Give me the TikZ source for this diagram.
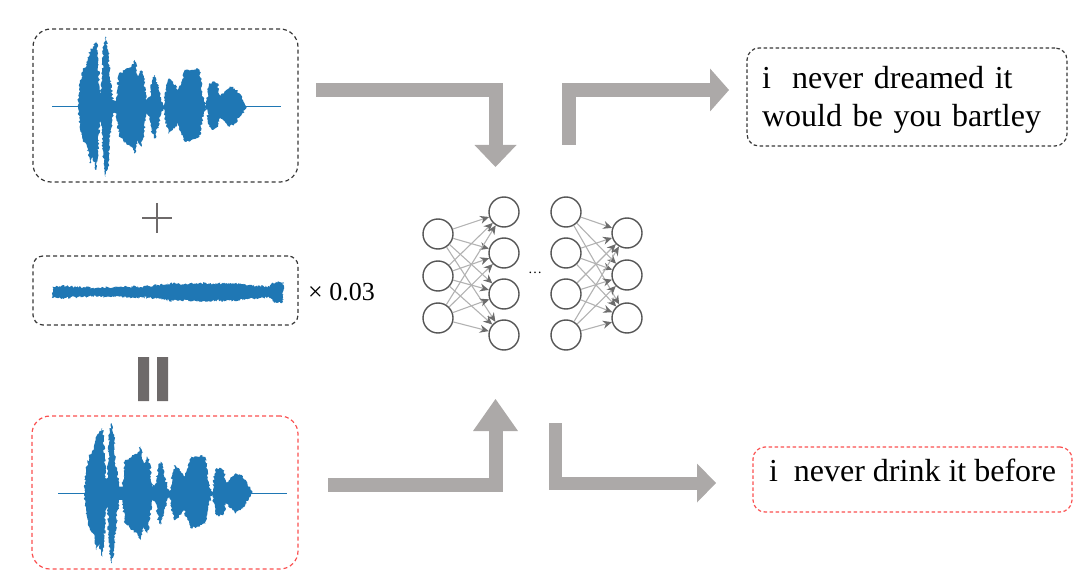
\documentclass[tikz,border=0pt]{standalone}
\usepackage{fontspec}
\setmainfont{Liberation Serif}
\usepackage{tikz}
\usetikzlibrary{arrows.meta,decorations.pathmorphing}
\definecolor{wave}{RGB}{31,119,180}
\definecolor{flow}{RGB}{172,169,168}
\definecolor{dashred}{RGB}{250,80,80}
\definecolor{dashblk}{RGB}{55,55,55}
\definecolor{neuron}{RGB}{85,85,85}
\definecolor{symgray}{RGB}{110,106,106}
\tikzset{
    wavebox/.style={rectangle,draw=dashblk,line width=1.2pt,dash pattern=on 4pt off 3pt,rounded corners=18pt,inner sep=0pt},
    advbox/.style={wavebox,draw=dashred},
    txtbox/.style={rectangle,draw=dashblk,line width=1.2pt,dash pattern=on 3.5pt off 2.5pt,rounded corners=12pt,font=\fontsize{32}{38.4}\selectfont},
    neuronc/.style={circle,draw=neuron,line width=1.4pt,minimum size=30pt,inner sep=0pt},
    link/.style={draw=gray!60,line width=1.1pt,-{Stealth[length=9pt,width=8pt,color=gray!85!black]}},
    bigarr/.style={draw=flow,line width=14pt,line join=miter},
    wavefill/.style={fill=wave,decorate,decoration={random steps,segment length=1.5pt,amplitude=1.2pt}},
}
\newcommand{\speechwave}[2]{%
  \begin{scope}[shift={(#1,#2)}]
    \draw[wave,line width=1.2pt] (-26,0) -- (203,0);
    \fill[wavefill] (0,0) -- (1.7,-20) -- (5,-36.7) -- (9,-43.3) -- (12.3,-56.7) -- (15,-60) -- (18.3,-65) -- (20,-53.3) -- (21.7,-16.7) -- (23.3,-13.3) -- (25.7,-63.3) -- (27.7,-70) -- (30,-56.7) -- (31.7,-30) -- (35,-6.7) -- (38.3,-6.7) -- (41,-33.3) -- (45,-35) -- (48.3,-38.3) -- (53.3,-40) -- (56.7,-46.7) -- (60,-30) -- (63.3,-36.7) -- (65.7,-30) -- (68.3,-6.7) -- (71.7,-10) -- (74.3,-26.7) -- (76.7,-31.7) -- (80,-20) -- (83.3,-6.7) -- (85.7,-0.7) -- (88.3,-20) -- (91,-28.3) -- (95,-25) -- (100,-16.7) -- (103.3,-23.3) -- (106.7,-36.7) -- (113.3,-36.7) -- (118.3,-38.3) -- (121.7,-35) -- (125,-10) -- (128.3,-0.7) -- (131,-23.3) -- (135,-25) -- (140,-23.3) -- (141.7,-10) -- (145,-13.3) -- (148.3,-16.7) -- (151.7,-20) -- (156.7,-18.3) -- (161.7,-13.3) -- (166.7,-3.3) -- (168.3,0)
      -- (166.7,3.3) -- (161.7,10) -- (156.7,16.7) -- (151.7,20) -- (148.3,16.7) -- (145,13.3) -- (141.7,10) -- (140,20) -- (135,23.3) -- (131,20) -- (128.3,0.7) -- (125,10) -- (121.7,30) -- (118.3,31.7) -- (113.3,33.3) -- (106.7,35) -- (103.3,26.7) -- (100,16.7) -- (95,23.3) -- (91,26.7) -- (88.3,20) -- (85.7,1.7) -- (83.3,6.7) -- (80,20) -- (76.7,31.7) -- (74.3,26.7) -- (71.7,10) -- (68.3,6.7) -- (65.7,26.7) -- (63.3,40) -- (60,33.3) -- (56.7,46.7) -- (53.3,40) -- (48.3,36.7) -- (45,33.3) -- (41,30) -- (38.3,6.7) -- (35,6.7) -- (31.7,33.3) -- (30,60) -- (27.7,70) -- (25.7,56.7) -- (23.3,13.3) -- (21.7,16.7) -- (20,46.7) -- (18.3,63.3) -- (15,50) -- (12.3,56.7) -- (9,40) -- (5,33.3) -- (1.7,20) -- cycle;
  \end{scope}}
\newcommand{\noisewave}[2]{%
  \begin{scope}[shift={(#1,#2)}]
    \fill[wavefill,decoration={segment length=1pt,amplitude=1.2pt}] (0,-6) -- (13.3,-5.7) -- (30,-4.7) -- (46.7,-4) -- (63.3,-5) -- (80,-5.3) -- (96.7,-5.7) -- (103.3,-6.7) -- (120,-8.7) -- (133.3,-8) -- (146.7,-9) -- (163.3,-8.3) -- (180,-8.7) -- (193.3,-6.7) -- (206.7,-6) -- (216.7,-5.3) -- (220,-9.3) -- (225,-10.7) -- (230,-10)
      -- (230,10) -- (225,10.7) -- (220,9.3) -- (216.7,5.3) -- (206.7,6) -- (193.3,6.7) -- (180,8.7) -- (163.3,8.3) -- (146.7,9) -- (133.3,8) -- (120,8.7) -- (103.3,6.7) -- (96.7,5.7) -- (80,5.3) -- (63.3,5) -- (46.7,4) -- (30,4.7) -- (13.3,5.7) -- (0,6) -- cycle;
  \end{scope}}

\begin{document}
\begin{tikzpicture}[x=1pt,y=-1pt]
\useasboundingbox (0,0) rectangle (1084,588);
\pgfmathsetseed{7}
\node[wavebox,minimum width=265pt,minimum height=153pt] (orig) at (165.5,105.5) {};
\node[wavebox,minimum width=265pt,minimum height=69pt,rounded corners=10pt] (pert) at (165.5,290.5) {};
\node[advbox,minimum width=266pt,minimum height=153pt] (advex) at (165,492.5) {};
\speechwave{78}{106.7}
\noisewave{53}{292}
\speechwave{84}{493.3}
\node[anchor=west,inner sep=0pt,font=\fontsize{26}{30}\selectfont] (scale) at (308,292) {× 0.03};

\draw[symgray,line width=2.6pt] (142,218) -- (172,218) (157,203) -- (157,233);
\fill[symgray] (138,357) rectangle (149,401) (157,357) rectangle (168,401);

\foreach \i/\y in {1/234,2/276,3/318} \node[neuronc] (a\i) at (438,\y) {};
\foreach \i/\y in {1/212,2/253,3/294,4/335} \node[neuronc] (b\i) at (504,\y) {};
\foreach \i/\y in {1/212,2/253,3/294,4/335} \node[neuronc] (c\i) at (566,\y) {};
\foreach \i/\y in {1/233,2/275,3/318} \node[neuronc] (d\i) at (627,\y) {};
\foreach \i in {1,2,3} \foreach \j in {1,...,4} \draw[link] (a\i) -- (b\j);
\foreach \i in {1,...,4} \foreach \j in {1,2,3} \draw[link] (c\i) -- (d\j);
\node[font=\fontsize{14}{14}\selectfont,inner sep=0pt] (gap) at (535,273) {\dots};

\node[txtbox,text width=290pt,align=left,inner xsep=15pt,minimum height=98pt] (txtorig) at (907,97) {\rule{0pt}{0.88em}i\ \ never dreamed it\\would be you bartley};
\node[txtbox,draw=dashred,minimum width=319pt,minimum height=65pt,text height=0.7em,text depth=0.3em] (txtadv) at (912.5,479.5) {i\ \ never drink it before};

\coordinate (origout) at (316,90);
\coordinate (netin) at (495.5,167);
\coordinate (advout) at (328,484.5);
\coordinate (netin2) at (495.5,399);
\coordinate (netout) at (569,145);
\coordinate (txtin) at (729,90);
\coordinate (netout2) at (555.5,423);
\coordinate (txtin2) at (716,483);
\draw[bigarr,-{Triangle[length=22pt,width=42pt,line width=0pt]}] (origout) -| (netin);
\draw[bigarr,-{Triangle[length=32pt,width=45pt,line width=0pt]}] (advout) -| (netin2);
\draw[bigarr,-{Triangle[length=19pt,width=43pt,line width=0pt]}] (netout) |- (txtin);
\draw[bigarr,line width=13pt,-{Triangle[length=19pt,width=39pt,line width=0pt]}] (netout2) |- (txtin2);
\end{tikzpicture}
\end{document}
